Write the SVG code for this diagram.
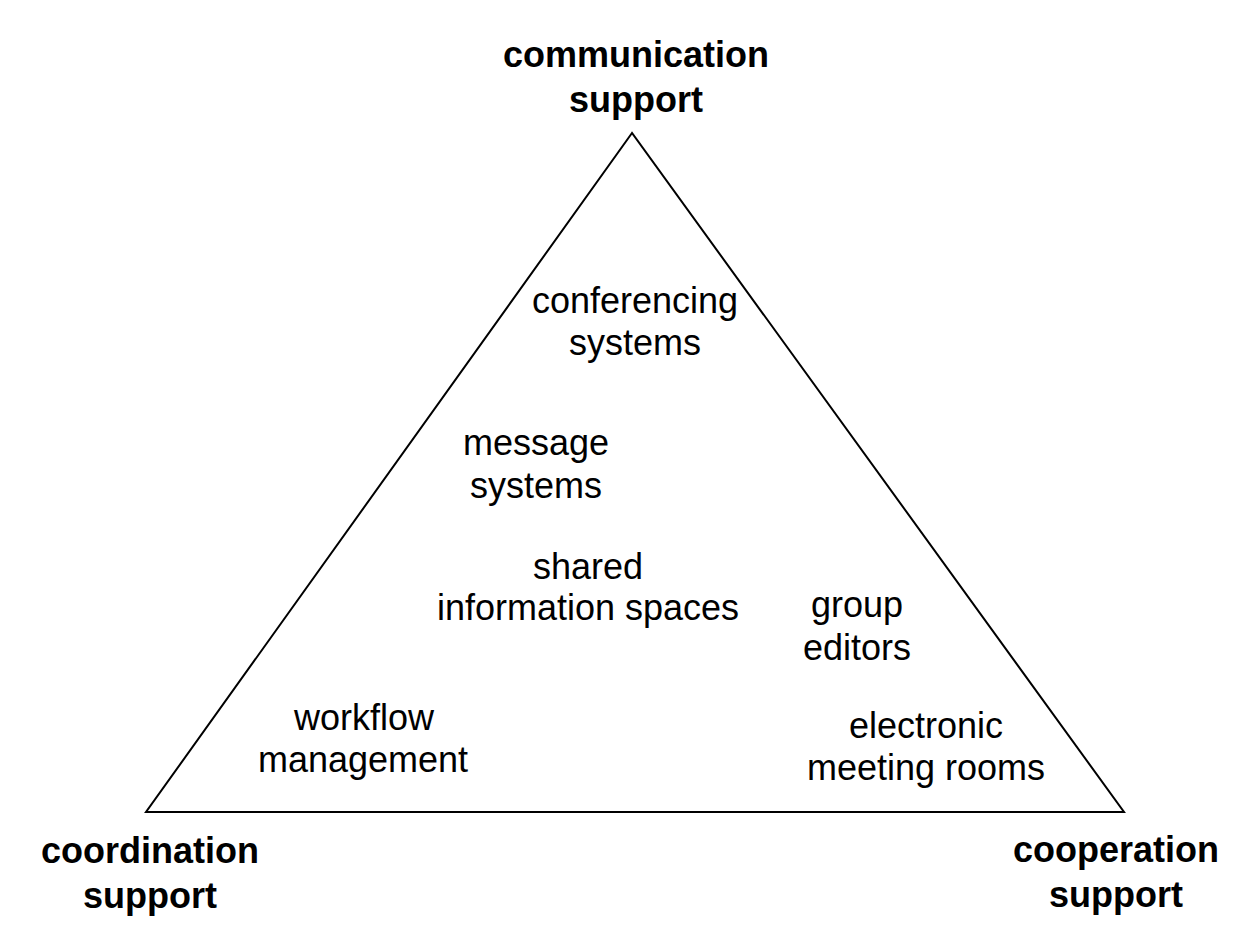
<svg xmlns="http://www.w3.org/2000/svg" width="1249" height="945" viewBox="0 0 1249 945">
<style>
.t{font-family:"Liberation Sans",Arial,sans-serif;font-size:36px;fill:#000;text-anchor:middle}
.b{font-weight:bold}
.tri{fill:none;stroke:#000;stroke-width:2}
</style>
<rect width="1249" height="945" fill="#fff"/>
<g id="connectors">
<polygon class="tri" points="632,133 146,812 1124,812"/>
</g>
<g id="communication"><text class="t b" x="636" y="67">communication</text><text class="t b" x="636" y="112">support</text></g>
<g id="coordination"><text class="t b" x="150" y="863">coordination</text><text class="t b" x="150" y="908">support</text></g>
<g id="cooperation"><text class="t b" x="1116" y="862">cooperation</text><text class="t b" x="1116" y="907">support</text></g>
<g id="conferencing"><text class="t" x="635" y="313">conferencing</text><text class="t" x="635" y="355">systems</text></g>
<g id="message"><text class="t" x="536" y="455">message</text><text class="t" x="536" y="498">systems</text></g>
<g id="shared"><text class="t" x="588" y="579">shared</text><text class="t" x="588" y="620">information spaces</text></g>
<g id="group"><text class="t" x="857" y="617">group</text><text class="t" x="857" y="660">editors</text></g>
<g id="electronic"><text class="t" x="926" y="738">electronic</text><text class="t" x="926" y="780">meeting rooms</text></g>
<g id="workflow"><text class="t" x="364" y="730">workflow</text><text class="t" x="363" y="772">management</text></g>
</svg>
